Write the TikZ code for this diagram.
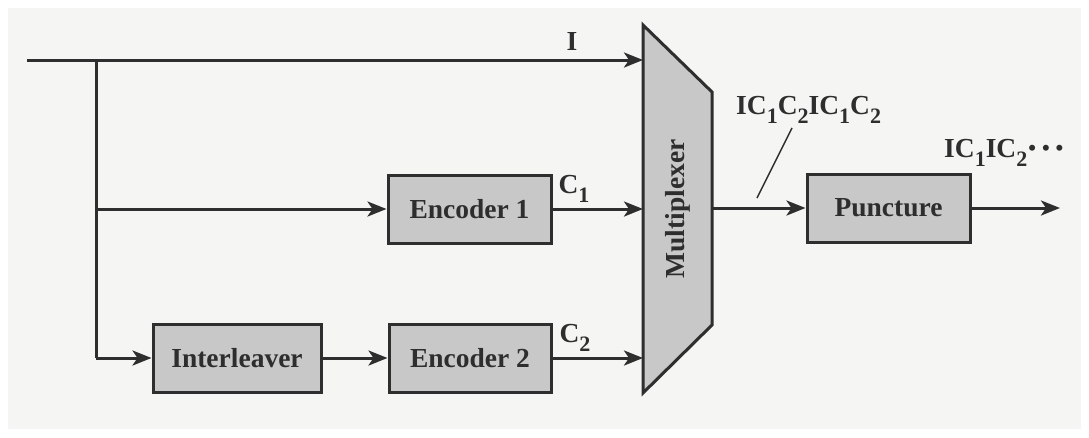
\documentclass[tikz,border=0pt]{standalone}
\usepackage{fontspec}
\setmainfont{Liberation Serif}
\usetikzlibrary{arrows.meta}
\definecolor{ink}{HTML}{2E2E2E}
\definecolor{boxfill}{HTML}{C8C8C8}
\definecolor{paper}{HTML}{F5F5F3}
% lowered, slightly reduced subscript digit
\newcommand{\lowsub}[1]{\raisebox{-0.3em}{\fontsize{22}{22}\selectfont #1}}
% bold trailing dots
\newcommand{\trail}{\raisebox{0.08em}{\fontsize{22}{22}\selectfont\textbullet\hspace{6pt}\textbullet\hspace{6pt}\textbullet}}
\begin{document}
\begin{tikzpicture}[x=1pt,y=-1pt,
  wire/.style={draw=ink,line width=3pt},
  arr/.style={wire,-{Stealth[length=19pt,width=15pt,inset=5pt]}},
  blk/.style={draw=ink,line width=3pt,fill=boxfill,minimum height=68pt,
    font=\fontsize{27.5}{31}\selectfont\bfseries,text=ink,inner sep=0pt},
  lbl/.style={font=\fontsize{27.5}{31}\selectfont\bfseries,text=ink,inner sep=0pt}]
\useasboundingbox (0,0) rectangle (1089,437);
\fill[paper] (8,8) rectangle (1081,429);

% blocks
\node[blk,minimum width=163pt] (enc1) at (469.5,209) {Encoder 1};
\node[blk,minimum width=168pt] (intl) at (237,358) {Interleaver};
\node[blk,minimum width=162pt] (enc2) at (470,358) {Encoder 2};
\node[blk,minimum width=163pt] (punc) at (888.5,208) {Puncture};

% multiplexer trapezium
\coordinate (mux-tl) at (643,25);
\coordinate (mux-tr) at (712,92);
\coordinate (mux-br) at (712,325);
\coordinate (mux-bl) at (643,393);
\draw[ink,line width=3pt,fill=boxfill,line join=miter]
  (mux-tl) -- (mux-tr) -- (mux-br) -- (mux-bl) -- cycle;
\node[lbl,rotate=90] (mux) at (677.5,209) {Multiplexer};

% ports on the multiplexer
\coordinate (muxI)  at (643,60);
\coordinate (muxC1) at (643,209);
\coordinate (muxC2) at (643,358);
\coordinate (muxO)  at (712,208);

% input and branch points
\coordinate (in) at (27,60);
\coordinate (j1) at (96,60);
\coordinate (j3) at (96,358);
\coordinate (out) at (1060,208);

% connectors
\draw[arr] (in) -- (muxI);
\draw[wire] (j1) -- (j3);
\draw[arr] (j1) |- (enc1.west);
\draw[arr] (j3) -- (intl.west);
\draw[arr] (intl.east) -- (enc2.west);
\draw[arr] (enc1.east) -- (muxC1);
\draw[arr] (enc2.east) -- (muxC2);
\draw[arr] (muxO) -- (punc.west);
\draw[arr] (punc.east) -- (out);

% stream labels
\node[lbl] (lI) at (572,41) {I};
\node[lbl] (lC1) at (574,189) {C\lowsub{1}};
\node[lbl] (lC2) at (575,338) {C\lowsub{2}};
\node[lbl,anchor=west] (lmux) at (736,110) {IC\lowsub{1}C\lowsub{2}IC\lowsub{1}C\lowsub{2}};
\node[lbl,anchor=west] (lpunc) at (944,153) {IC\lowsub{1}IC\lowsub{2}\hspace{1pt}\trail};
\coordinate (tickA) at (792,128);
\coordinate (tickB) at (757,198);
\draw[ink,line width=1.5pt] (tickA) -- (tickB);
\end{tikzpicture}
\end{document}
